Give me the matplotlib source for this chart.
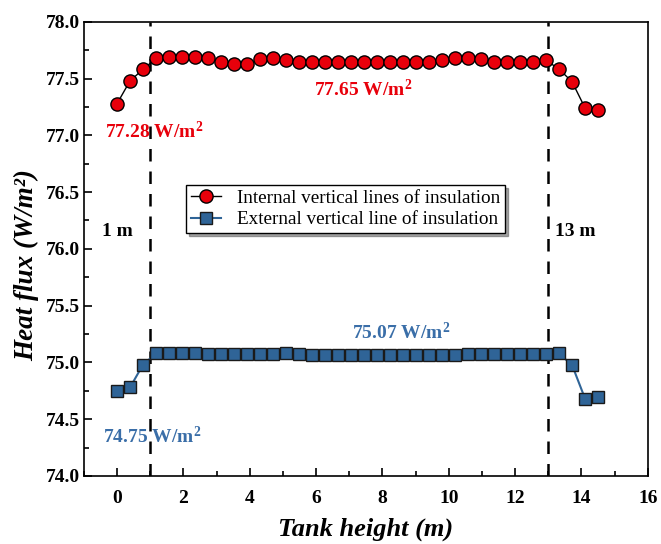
import matplotlib
matplotlib.use("Agg")
import matplotlib.pyplot as plt
from matplotlib.ticker import MultipleLocator, FormatStrFormatter

plt.rcParams["font.family"] = ["Liberation Serif", "DejaVu Serif"]
plt.rcParams["mathtext.fontset"] = "custom"
plt.rcParams["mathtext.rm"] = "Liberation Serif"
plt.rcParams["mathtext.bf"] = "Liberation Serif:bold"
plt.rcParams["mathtext.it"] = "Liberation Serif:italic:bold"

# tank height positions (m)
height = [0.0, 0.39, 0.78, 1.18, 1.57, 1.96, 2.35, 2.74, 3.14, 3.53,
          3.92, 4.31, 4.70, 5.09, 5.49, 5.88, 6.27, 6.66, 7.05, 7.45,
          7.84, 8.23, 8.62, 9.01, 9.41, 9.80, 10.19, 10.58, 10.97, 11.37,
          11.76, 12.15, 12.54, 12.93, 13.32, 13.72, 14.11, 14.50]

# internal vertical line of insulation
flux_in = [77.28, 77.48, 77.58, 77.68, 77.69, 77.69, 77.69, 77.68, 77.65, 77.63,
           77.63, 77.67, 77.68, 77.66, 77.65, 77.65, 77.65, 77.65, 77.65, 77.65,
           77.65, 77.65, 77.65, 77.65, 77.65, 77.66, 77.685, 77.685, 77.67, 77.645,
           77.645, 77.645, 77.65, 77.66, 77.585, 77.47, 77.24, 77.22]

# external vertical line of insulation
flux_out = [74.745, 74.78, 74.98, 75.08, 75.08, 75.08, 75.08, 75.07, 75.07, 75.07,
            75.07, 75.07, 75.07, 75.08, 75.07, 75.065, 75.065, 75.065, 75.065, 75.065,
            75.065, 75.065, 75.065, 75.065, 75.065, 75.065, 75.065, 75.07, 75.075, 75.07,
            75.07, 75.07, 75.07, 75.07, 75.08, 74.975, 74.68, 74.695]

boundaries = [1, 13]

RED = "#E8000B"
BLUE = "#2F6497"
BLUE_TXT = "#3A6EA8"


def main():
    fig = plt.figure(figsize=(6.61, 5.44), dpi=100)
    ax = fig.add_axes([0.127, 0.125, 0.853, 0.835])

    ax.plot(height, flux_in, color="black", linewidth=1.0, marker="o",
            markersize=9.5, markerfacecolor=RED, markeredgecolor="black",
            markeredgewidth=1.0, label="Internal vertical lines of insulation",
            zorder=4)
    ax.plot(height, flux_out, color=BLUE, linewidth=1.5, marker="s",
            markersize=8.8, markerfacecolor=BLUE, markeredgecolor="#1a1a1a",
            markeredgewidth=1.0, label="External vertical line of insulation",
            zorder=4)

    for b in boundaries:
        ax.axvline(b, color="black", linestyle=(0, (5, 4)), linewidth=1.8, zorder=3)

    bold = {"fontweight": "bold", "fontsize": 14}
    unit = r" W/m$^{\mathbf{2}}$"
    ax.text(1.12, 77.03, "77.28" + unit, color=RED, ha="center", va="center", **bold)
    ax.text(7.43, 77.40, "77.65" + unit, color=RED, ha="center", va="center", **bold)
    ax.text(1.05, 74.35, "74.75" + unit, color=BLUE_TXT, ha="center", va="center", **bold)
    ax.text(8.55, 75.26, "75.07" + unit, color=BLUE_TXT, ha="center", va="center", **bold)
    ax.text(0.0, 76.15, "1 m", color="black", ha="center", va="center", **bold)
    ax.text(13.8, 76.15, "13 m", color="black", ha="center", va="center", **bold)

    ax.set_xlim(-1, 16)
    ax.set_ylim(74.0, 78.0)
    ax.xaxis.set_major_locator(MultipleLocator(2))
    ax.xaxis.set_minor_locator(MultipleLocator(1))
    ax.yaxis.set_major_locator(MultipleLocator(0.5))
    ax.yaxis.set_minor_locator(MultipleLocator(0.25))
    ax.yaxis.set_major_formatter(FormatStrFormatter("%.1f"))
    ax.tick_params(which="both", direction="in", top=False, right=False, width=1.2)
    ax.tick_params(which="major", length=6, labelsize=14)
    ax.tick_params(axis="x", which="major", pad=10)
    ax.tick_params(axis="y", which="major", pad=3)
    ax.tick_params(which="minor", length=3.5)
    for lab in ax.get_xticklabels() + ax.get_yticklabels():
        lab.set_fontweight("bold")
    for sp in ax.spines.values():
        sp.set_linewidth(1.2)

    ax.set_xlabel("Tank height (m)", fontsize=19, fontweight="bold", style="italic",
                  labelpad=8)
    ax.set_ylabel("Heat flux (W/m²)", fontsize=19.5, fontweight="bold", style="italic")
    ax.yaxis.set_label_coords(-0.08, 0.465)

    leg = ax.legend(loc="upper left", bbox_to_anchor=(0.181, 0.641), fontsize=13.8,
                    frameon=True, fancybox=False, shadow=True, edgecolor="black",
                    handlelength=1.6, handletextpad=0.8, borderpad=0.25,
                    labelspacing=0.2, borderaxespad=0)
    leg.get_frame().set_linewidth(1.0)

    fig.savefig("out.png", dpi=100)


if __name__ == "__main__":
    main()
